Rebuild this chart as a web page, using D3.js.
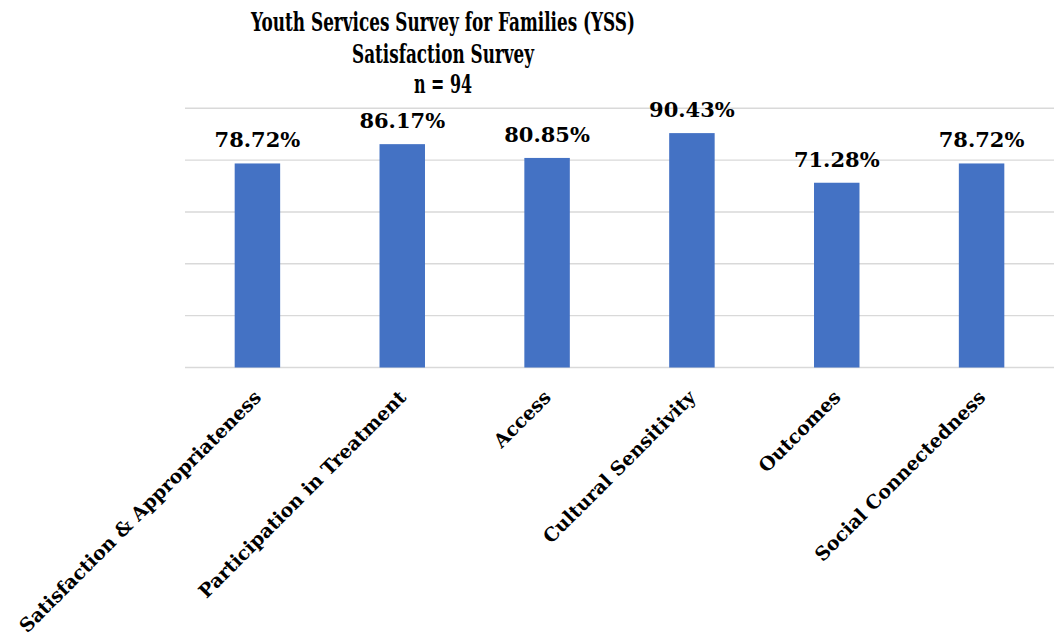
<!DOCTYPE html>
<html>
<head>
<meta charset="utf-8">
<script src="https://cdn.jsdelivr.net/npm/d3@7"></script>
<style>
  html, body { margin: 0; padding: 0; background: #ffffff; }
  svg { display: block; }
  text { font-family: "DejaVu Serif", "Liberation Serif", serif; font-weight: bold; fill: #000; }
</style>
</head>
<body>
<svg id="chart" width="1058" height="641"></svg>
<script>
// Domain categories and their satisfaction percentages
const categories = [
  "Satisfaction & Appropriateness",
  "Participation in Treatment",
  "Access",
  "Cultural Sensitivity",
  "Outcomes",
  "Social Connectedness"
];
const values = [78.72, 86.17, 80.85, 90.43, 71.28, 78.72];
const gridTicks = [0, 20, 40, 60, 80, 100];
const titleLines = ["Youth Services Survey for Families (YSS)", "Satisfaction Survey", "n = 94"];

const svg = d3.select("#chart");

const plot = { left: 185, right: 1054, top: 108.3, bottom: 367.5 };

const x = d3.scaleBand()
  .domain(categories)
  .range([plot.left, plot.right])
  .paddingInner(0.686)
  .paddingOuter(0.343);

const y = d3.scaleLinear()
  .domain([0, 100])
  .range([plot.bottom, plot.top]);

// Horizontal gridlines (the zero line doubles as the category axis)
svg.append("g")
  .selectAll("line")
  .data(gridTicks)
  .join("line")
  .attr("x1", plot.left)
  .attr("x2", plot.right)
  .attr("y1", d => y(d))
  .attr("y2", d => y(d))
  .attr("stroke", "#d9d9d9")
  .attr("stroke-width", 1.4);

// Bars
svg.append("g")
  .selectAll("rect")
  .data(values)
  .join("rect")
  .attr("x", (d, i) => x(categories[i]))
  .attr("width", x.bandwidth())
  .attr("y", d => y(d))
  .attr("height", d => y(0) - y(d))
  .attr("fill", "#4472c4");

// Value labels above bars
svg.append("g")
  .selectAll("text")
  .data(values)
  .join("text")
  .attr("x", (d, i) => x(categories[i]) + x.bandwidth() / 2)
  .attr("y", d => y(d) - 16)
  .attr("text-anchor", "middle")
  .style("font-size", "21px")
  .text(d => d.toFixed(2) + "%");

// Rotated category labels
svg.append("g")
  .selectAll("text")
  .data(categories)
  .join("text")
  .attr("transform", d => `translate(${x(d) + x.bandwidth() / 2 + 5},${plot.bottom + 31}) rotate(-45)`)
  .attr("text-anchor", "end")
  .style("font-size", "19px")
  .text(d => d);

// Title block
const titleX = 443;
const titleBase = [31, 63, 93];
const titleWidths = [384, 182, 58];
svg.append("g")
  .selectAll("text")
  .data(titleLines)
  .join("text")
  .attr("x", titleX)
  .attr("y", (d, i) => titleBase[i])
  .attr("text-anchor", "middle")
  .attr("textLength", (d, i) => titleWidths[i])
  .attr("lengthAdjust", "spacingAndGlyphs")
  .style("font-size", "26px")
  .text(d => d);
</script>
</body>
</html>
